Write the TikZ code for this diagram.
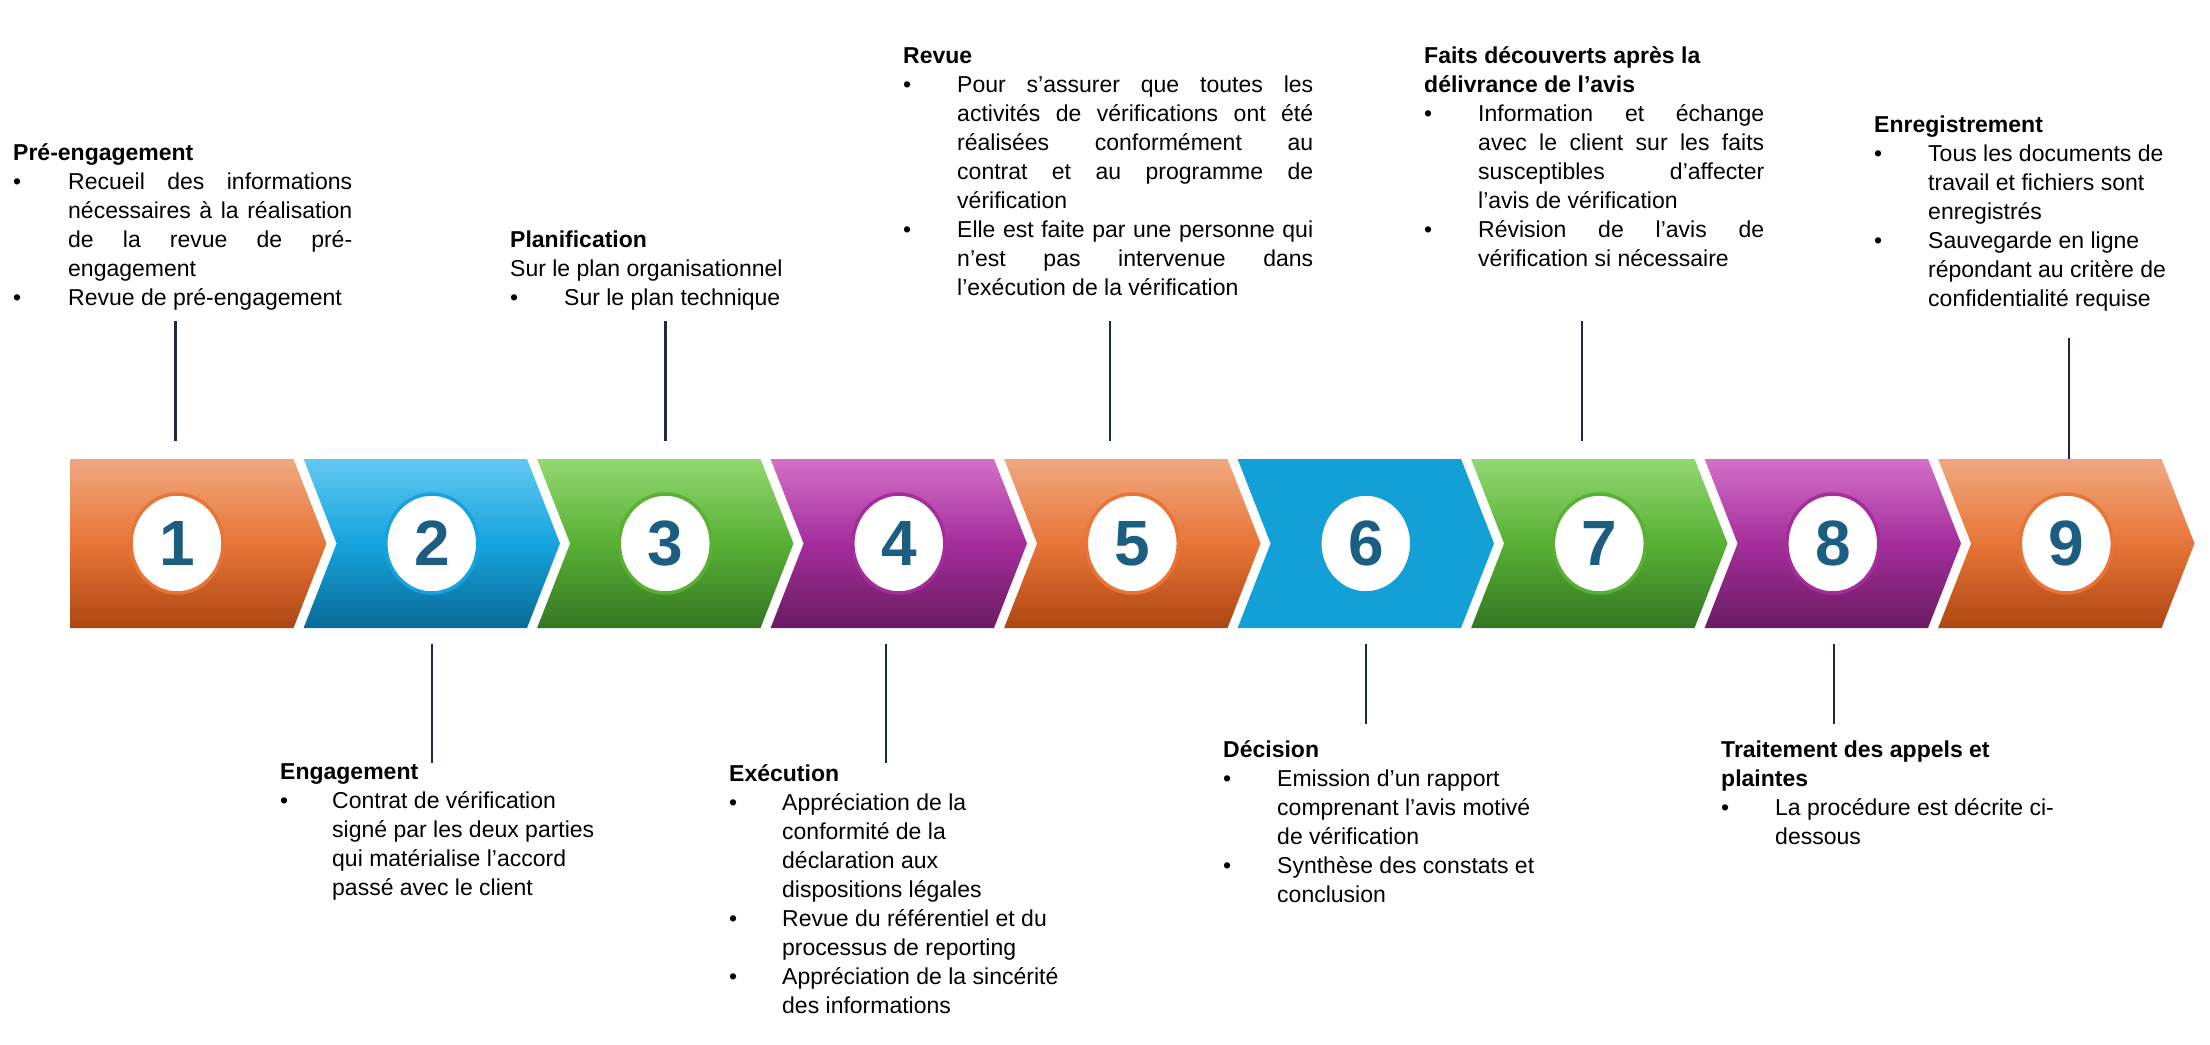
\documentclass[tikz,border=0pt]{standalone}
\usepackage{fontspec}
\setmainfont{Liberation Sans}
\usetikzlibrary{shapes.geometric}

\definecolor{orgT}{RGB}{240,168,128}
\definecolor{orgM}{RGB}{232,117,55}
\definecolor{orgB}{RGB}{174,70,18}
\definecolor{bluT}{RGB}{98,201,242}
\definecolor{bluM}{RGB}{22,163,221}
\definecolor{bluB}{RGB}{10,106,150}
\definecolor{grnT}{RGB}{146,216,114}
\definecolor{grnM}{RGB}{88,176,52}
\definecolor{grnB}{RGB}{52,118,34}
\definecolor{purT}{RGB}{212,112,200}
\definecolor{purM}{RGB}{164,45,155}
\definecolor{purB}{RGB}{106,28,98}
\definecolor{bluflat}{RGB}{18,160,215}
\definecolor{numblue}{RGB}{27,94,130}
\definecolor{leadline}{RGB}{28,43,69}

\newlength{\bind}
\newcommand{\txtsize}{\fontsize{23}{29}\selectfont}
\newcommand{\bitem}[1]{\makebox[\bind][l]{\textbullet}#1}
\newcommand{\bcont}[1]{\hspace*{\bind}#1}
\newcommand{\jfy}[2]{\makebox[#1][s]{#2}}

\tikzset{
  blk/.style={anchor=base west, inner sep=0pt, font=\txtsize, text=black},
  numdisc/.style={ellipse, fill=white, draw=#1, line width=3.5pt, minimum width=92pt,
    minimum height=99pt, inner sep=0pt, font=\fontsize{64}{64}\selectfont\bfseries, text=numblue},
  leader/.style={draw=leadline, line width=2.2pt}
}

\begin{document}
\begin{tikzpicture}[x=1pt, y=-1pt]
                \useasboundingbox (0,0) rectangle (2210,1044);

                % band of chevrons
                \path[top color=orgT, bottom color=orgB, middle color=orgM]
                    (70.1,459) -- ++(223.4,0) -- ++(33,84.5) -- ++(-33,84.5) -- ++(-223.4,0) -- cycle;
                \foreach \k/\ca/\cb/\cc in {2/bluT/bluM/bluB, 3/grnT/grnM/grnB, 4/purT/purM/purB,
                        5/orgT/orgM/orgB, 6/bluflat/bluflat/bluflat, 7/grnT/grnM/grnB,
                        8/purT/purM/purB, 9/orgT/orgM/orgB}{
                    \pgfmathsetmacro{\xl}{70.1+(\k-1)*233.5}
                    \path[top color=\ca, bottom color=\cc, middle color=\cb]
                        (\xl,459) -- ++(223.4,0) -- ++(33,84.5) -- ++(-33,84.5) -- ++(-223.4,0) -- ++(33,-84.5) -- cycle;
                }

                \node[numdisc=orgM] (n1) at (177,543.5) {1};
                \node[numdisc=bluM] (n2) at (431.8,543.5) {2};
                \node[numdisc=grnM] (n3) at (665.3,543.5) {3};
                \node[numdisc=purM] (n4) at (898.8,543.5) {4};
                \node[numdisc=orgM] (n5) at (1132.3,543.5) {5};
                \node[numdisc=bluflat] (n6) at (1365.8,543.5) {6};
                \node[numdisc=grnM] (n7) at (1599.3,543.5) {7};
                \node[numdisc=purM] (n8) at (1832.8,543.5) {8};
                \node[numdisc=orgM] (n9) at (2066.3,543.5) {9};

                % texts above
                \node[blk] (pre) at (13,160) {\parbox[t]{430pt}{\setlength\bind{55pt}%
                    \textbf{Pré-engagement}\\
                    \bitem{\jfy{284pt}{Recueil des informations}}\\
                    \bcont{\jfy{284pt}{nécessaires à la réalisation}}\\
                    \bcont{\jfy{284pt}{de la revue de pré-}}\\
                    \bcont{engagement}\\
                    \bitem{Revue de pré-engagement}}};
                \node[blk] (plan) at (510,247) {\parbox[t]{430pt}{\setlength\bind{54pt}%
                    \textbf{Planification}\\
                    Sur le plan organisationnel\\
                    \bitem{Sur le plan technique}}};
                \node[blk] (rev) at (903,63) {\parbox[t]{430pt}{\setlength\bind{54pt}%
                    \textbf{Revue}\\
                    \bitem{\jfy{356pt}{Pour s’assurer que toutes les}}\\
                    \bcont{\jfy{356pt}{activités de vérifications ont été}}\\
                    \bcont{\jfy{356pt}{réalisées conformément au}}\\
                    \bcont{\jfy{356pt}{contrat et au programme de}}\\
                    \bcont{vérification}\\
                    \bitem{\jfy{356pt}{Elle est faite par une personne qui}}\\
                    \bcont{\jfy{356pt}{n’est pas intervenue dans}}\\
                    \bcont{l’exécution de la vérification}}};
                \node[blk] (faits) at (1424,63) {\parbox[t]{430pt}{\setlength\bind{54pt}%
                    \textbf{Faits découverts après la}\\
                    \textbf{délivrance de l’avis}\\
                    \bitem{\jfy{286pt}{Information et échange}}\\
                    \bcont{\jfy{286pt}{avec le client sur les faits}}\\
                    \bcont{\jfy{286pt}{susceptibles d’affecter}}\\
                    \bcont{l’avis de vérification}\\
                    \bitem{\jfy{286pt}{Révision de l’avis de}}\\
                    \bcont{vérification si nécessaire}}};
                \node[blk] (enr) at (1874,132) {\parbox[t]{330pt}{\setlength\bind{54pt}%
                    \textbf{Enregistrement}\\
                    \bitem{Tous les documents de}\\
                    \bcont{travail et fichiers sont}\\
                    \bcont{enregistrés}\\
                    \bitem{Sauvegarde en ligne}\\
                    \bcont{répondant au critère de}\\
                    \bcont{confidentialité requise}}};

                % texts below
                \node[blk] (eng) at (280,779) {\parbox[t]{430pt}{\setlength\bind{52pt}%
                    \textbf{Engagement}\\
                    \bitem{Contrat de vérification}\\
                    \bcont{signé par les deux parties}\\
                    \bcont{qui matérialise l’accord}\\
                    \bcont{passé avec le client}}};
                \node[blk] (exe) at (729,781) {\parbox[t]{430pt}{\setlength\bind{53pt}%
                    \textbf{Exécution}\\
                    \bitem{Appréciation de la}\\
                    \bcont{conformité de la}\\
                    \bcont{déclaration aux}\\
                    \bcont{dispositions légales}\\
                    \bitem{Revue du référentiel et du}\\
                    \bcont{processus de reporting}\\
                    \bitem{Appréciation de la sincérité}\\
                    \bcont{des informations}}};
                \node[blk] (dec) at (1223,757) {\parbox[t]{430pt}{\setlength\bind{54pt}%
                    \textbf{Décision}\\
                    \bitem{Emission d’un rapport}\\
                    \bcont{comprenant l’avis motivé}\\
                    \bcont{de vérification}\\
                    \bitem{Synthèse des constats et}\\
                    \bcont{conclusion}}};
                \node[blk] (trait) at (1721,757) {\parbox[t]{430pt}{\setlength\bind{54pt}%
                    \textbf{Traitement des appels et}\\
                    \textbf{plaintes}\\
                    \bitem{La procédure est décrite ci-}\\
                    \bcont{dessous}}};

                % leader lines
                \coordinate (u1) at (175.5,321); \coordinate (w1) at (175.5,441);
                \coordinate (u3) at (665.5,321); \coordinate (w3) at (665.5,441);
                \coordinate (u5) at (1110,321);  \coordinate (w5) at (1110,441);
                \coordinate (u7) at (1582,321);  \coordinate (w7) at (1582,441);
                \coordinate (u9) at (2069,338);  \coordinate (w9) at (2069,459);
                \coordinate (u2) at (432,644);   \coordinate (w2) at (432,763);
                \coordinate (u4) at (886,644);   \coordinate (w4) at (886,763);
                \coordinate (u6) at (1366,644);  \coordinate (w6) at (1366,724);
                \coordinate (u8) at (1834,644);  \coordinate (w8) at (1834,724);

                \foreach \i in {1,...,9}
                    \draw[leader] (u\i) -- (w\i);

            \end{tikzpicture}
\end{document}
